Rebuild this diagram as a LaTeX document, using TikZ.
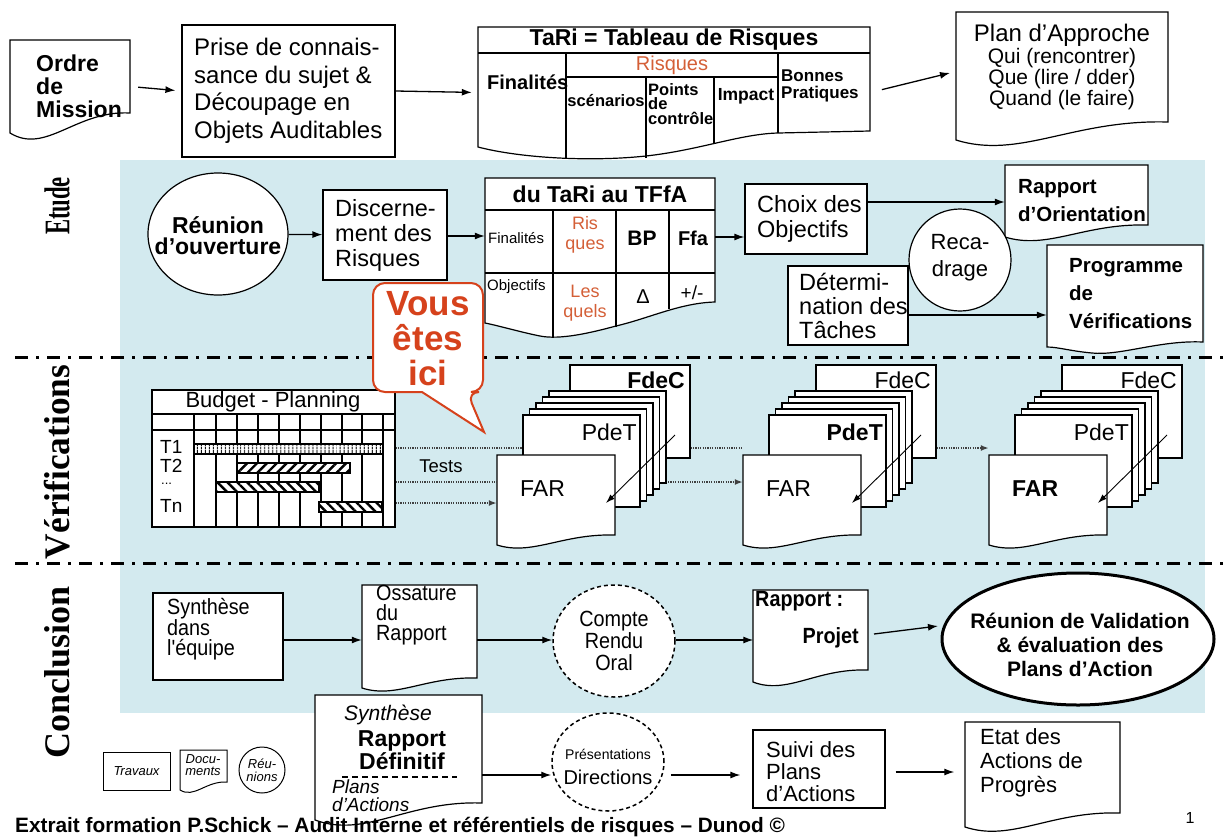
\documentclass[tikz,border=0pt]{standalone}
\usepackage{fontspec}
\setmainfont{Liberation Sans}
\newfontfamily\labfont{Liberation Serif}
\newfontfamily\narrowf[FakeStretch=0.9]{Liberation Sans}
\usetikzlibrary{arrows.meta,patterns.meta,shapes.geometric,calc}
\definecolor{bgblue}{RGB}{211,234,239}
\definecolor{rq}{RGB}{212,95,55}
\definecolor{vred}{RGB}{214,66,28}
\newcommand\fz[2]{\fontsize{#1}{#2}\selectfont}
\tikzset{
 bx/.style={draw, line width=1.2pt, fill=white, inner sep=0pt},
 ghost/.style={inner sep=0pt},
 t/.style={inner sep=0pt, align=left},
 tc/.style={inner sep=0pt, align=center},
 arr/.style={line width=1.3pt, -{Latex[length=10pt,width=7pt]}},
 thinarr/.style={line width=0.9pt, -{Latex[length=9pt,width=6pt]}},
 docl/.style={line width=1.2pt, fill=white},
 tl/.style={line width=1.2pt},
 dotl/.style={line width=1.6pt, dash pattern=on 1.2pt off 1.2pt, draw=black!75},
 dotarr/.style={dotl, -{Latex[length=8pt,width=6pt]}},
 dashdot/.style={line width=3pt, dash pattern=on 13pt off 8pt on 3pt off 8pt},
 lab/.style={inner sep=0pt, rotate=90, font=\labfont\bfseries\fz{36}{36}},
}
% x1 y1 x2 yLeftBottom yRightBottom
\newcommand\docpath[6][]{\filldraw[docl,#1] (#2,#5) -- (#2,#3) -- (#4,#3) -- (#4,#6) .. controls ({#2+0.55*(#4-#2)},{#6-0.15*(#5-#6)}) and ({#2+0.3*(#4-#2)},{#5+1.1*(#5-#6)}) .. (#2,#5) -- cycle;}
\newcommand\stack[5]{%
\begin{scope}[xshift=#1pt]
 \node[bx, minimum width=120pt, minimum height=93pt] (fdec#2) at (630,411.5) {};
 \foreach \k in {4,3,2,1} \filldraw[fill=white, line width=1.1pt] ({523+6.5*\k},{415-6*\k}) rectangle ({640+6.5*\k},{507-6*\k});
 \node[bx, minimum width=117pt, minimum height=92pt] (pdet#2) at (581.5,461) {};
 \node[ghost, minimum width=118pt, minimum height=85pt] (far#2) at (556,497.5) {};
 \docpath{497}{455}{615}{545}{535}
 \node[t, anchor=east, font=#3\fz{23}{23}] (fdect#2) at (685,380) {FdeC};
 \node[t, anchor=east, font=#4\fz{23}{23}] (pdett#2) at (637,432) {PdeT};
 \node[t, anchor=west, font=#5\fz{23}{23}] (fart#2) at (520,489) {FAR};
 \coordinate (as#2) at (675,435);
 \coordinate (at#2) at (606,503);
 \draw[thinarr] (as#2) -- (at#2);
\end{scope}}
\begin{document}
\begin{tikzpicture}[x=1pt,y=-1pt]
\useasboundingbox (0,0) rectangle (1227,839);
\fill[white] (0,0) rectangle (1227,839);
\fill[bgblue] (120,160) rectangle (1205,713);
\draw[dashdot] (15,357) -- (1227,357);
\draw[dashdot] (15,563) -- (1227,563);
% side labels
\node[lab] (labE) at (57,206) {\scalebox{0.63}[1]{Etude}};
\node[lab] (labV) at (57,462) {\scalebox{0.98}[1]{Vérifications}};
\node[lab] (labC) at (57,672) {Conclusion};
% ===== top row
\node[ghost, minimum width=120pt, minimum height=93pt] (ordre) at (70,86.5) {};
\docpath{10}{40}{130}{133}{113}
\node[t, anchor=west, font=\bfseries\fz{23}{23}] (ordret) at (36,86) {Ordre\\de\\Mission};
\node[bx, minimum width=213pt, minimum height=132pt] (prise) at (288.5,91) {};
\node[t, anchor=west, font=\fz{24}{27.5}] (priset) at (194,91) {Prise de connais-\\sance du sujet \&\\Découpage en\\Objets Auditables};
% TaRi
\node[ghost, minimum width=392pt, minimum height=131pt] (tari) at (674,92.5) {};
\filldraw[fill=white, tl] (478,27) -- (870,27) -- (870,131) -- (778,133) .. controls (740,134) and (700,150) .. (646,156) .. controls (590,162) and (520,158) .. (478,147) -- cycle;
\draw[tl] (478,53) -- (870,53);
\draw[tl] (566,53) -- (566,158);
\draw[tl] (566,77) -- (778,77);
\draw[tl] (646,77) -- (646,158);
\draw[tl] (714,77) -- (714,143);
\draw[tl] (778,53) -- (778,133);
\node[tc, font=\bfseries\fz{23}{23}] (tarit) at (674,40) {TaRi = Tableau de Risques};
\node[tc, text=rq, font=\fz{20}{20}] (tarir) at (672,65) {Risques};
\node[t, anchor=west, font=\bfseries\fz{20}{20}] (tarif) at (487,82) {Finalités};
\node[tc, font=\bfseries\fz{16.5}{16}] (taris) at (606,101) {scénarios};
\node[t, anchor=west, font=\bfseries\fz{16.5}{14.5}] (tarip) at (648,104) {Points\\de\\contrôle};
\node[tc, font=\bfseries\fz{17.5}{17}] (tarii) at (746,96) {Impact};
\node[t, anchor=west, font=\bfseries\fz{17}{17}] (tarib) at (781,86) {Bonnes\\Pratiques};
% Plan d'approche
\node[ghost, minimum width=212pt, minimum height=119pt] (plan) at (1062,71.5) {};
\docpath{956}{12}{1168}{140}{122}
\node[tc, font=\fz{24}{24}] (plant) at (1062,35) {Plan d'Approche};
\node[tc, font=\fz{21}{19}] (planq) at (1062,79) {Qui (rencontrer)\\Que (lire / dder)\\Quand (le faire)};
\draw[arr, shorten <=8pt, shorten >=6pt] (ordre.east) -- (prise.west);
\draw[arr, shorten >=6pt] (prise.east) -- (tari.west);
\draw[arr, shorten <=12pt, shorten >=6pt] (tari.east) -- (plan.west);
% ===== Etude
\node[draw, ellipse, line width=1.2pt, fill=white, minimum width=140pt, minimum height=122pt, inner sep=0pt] (reunion) at (218,234) {};
\node[tc, font=\bfseries\fz{23}{21}] (reuniont) at (218,236) {Réunion\\d'ouverture};
\node[bx, minimum width=124pt, minimum height=90pt] (disc) at (385,235) {};
\node[t, anchor=west, font=\fz{23.5}{25}] (disct) at (335,235) {Discerne-\\ment des\\Risques};
% TFfA
\node[ghost, minimum width=230pt, minimum height=160pt] (tffa) at (600,258) {};
\filldraw[fill=white, tl] (485,178) -- (715,178) -- (715,302) .. controls (680,303) and (650,318) .. (616,326) .. controls (590,333) and (560,340) .. (540,336) .. controls (520,332) and (500,326) .. (485,323) -- cycle;
\draw[tl] (485,210) -- (715,210);
\draw[tl] (485,273) -- (715,273);
\draw[tl] (553,210) -- (553,338);
\draw[tl] (616,210) -- (616,327);
\draw[tl] (669,210) -- (669,309);
\node[tc, font=\bfseries\fz{23}{23}] (tffat) at (600,194) {du TaRi au TFfA};
\node[t, anchor=west, font=\fz{15}{15}] (tffaf) at (488,238) {Finalités};
\node[tc, text=rq, font=\fz{18}{20}] (tffar) at (585,235) {Ris\\ques};
\node[tc, font=\bfseries\fz{21}{21}] (tffab) at (642,238) {BP};
\node[tc, font=\bfseries\fz{20}{20}] (tffaff) at (693,238) {Ffa};
\node[t, anchor=west, font=\fz{15}{15}] (tffao) at (487,287) {Objectifs};
\node[tc, text=rq, font=\fz{18}{20}] (tffal) at (585,303) {Les\\quels};
\node[tc, font=\fz{20}{20}] (tffad) at (643,297) {Δ};
\node[tc, font=\fz{19}{19}] (tffapm) at (692,293) {+/-};
% right part
\node[bx, minimum width=122pt, minimum height=70pt] (choix) at (806,219) {};
\node[t, anchor=west, font=\fz{23.5}{25}] (choixt) at (757,219) {Choix des\\Objectifs};
\node[ghost, minimum width=143pt, minimum height=66pt] (rapor) at (1076.5,198) {};
\docpath{1005}{165}{1148}{237}{225}
\node[t, anchor=west, font=\bfseries\fz{20.5}{28}] (rapot) at (1018,201) {Rapport\\d'Orientation};
\node[bx, minimum width=120pt, minimum height=79pt] (deter) at (848,305.5) {};
\node[t, anchor=west, font=\fz{23.5}{24}] (detert) at (799,306) {Détermi-\\nation des\\Tâches};
\node[draw, circle, line width=1.2pt, fill=white, minimum size=102pt, inner sep=0pt] (recad) at (960,260) {};
\node[tc, font=\fz{22}{27}] (recadt) at (960,258) {Reca-\\drage};
\node[ghost, minimum width=156pt, minimum height=100pt] (prog) at (1125,295) {};
\filldraw[docl] (1047,347) -- (1047,245) -- (1203,245) -- (1203,342) .. controls (1160,340) and (1120,356) .. (1092,353) .. controls (1070,351) and (1058,347) .. (1047,347) -- cycle;
\node[t, anchor=west, font=\bfseries\fz{20.5}{28}] (progt) at (1069,294) {Programme\\de\\Vérifications};
\coordinate (yA) at (0,236);
\coordinate (yB) at (0,237);
\coordinate (yC) at (0,202);
\coordinate (yD) at (0,315);
\draw[arr] (reunion) -- (disc);
\draw[arr] (disc.east |- yA) -- (tffa.west |- yA);
\draw[arr] (tffa.east |- yB) -- (choix.west |- yB);
\draw[arr] (choix.east |- yC) -- (rapor.west |- yC);
\draw[arr] (deter.east |- yD) -- (prog.west |- yD);
% ===== Verifications
\node[bx, minimum width=243pt, minimum height=137pt] (budget) at (273.5,458.5) {};
\draw[tl] (152,414) -- (395,414);
\draw[tl] (152,430) -- (395,430);
\foreach \x in {194,216,237,258,279,300,321,342,362,383} \draw[tl] (\x,414) -- (\x,527);
\foreach \a/\b/\c/\d/\ang/\dist/\lw in {194/444/383/454/90/4/1.4, 237/463/350/473/45/7/2.4, 216/482/319/492/-45/7/2.4, 319/502/382/512/-45/7/2.4}{
 \fill[white] (\a,\b) rectangle (\c,\d);
 \fill[pattern={Lines[angle=\ang,distance=\dist pt,line width=\lw pt]}] (\a,\b) rectangle (\c,\d);
 \draw[line width=1.1pt] (\a,\b) rectangle (\c,\d);
}
\node[tc, font=\fz{22}{22}] (budgett) at (273,402) {Budget - Planning};
\node[t, anchor=west, font=\fz{19}{19}] (t1) at (160,447) {T1};
\node[t, anchor=west, font=\fz{19}{19}] (t2) at (160,466) {T2};
\node[t, anchor=west, font=\fz{13}{13}] (tdots) at (161,484) {...};
\node[t, anchor=west, font=\fz{19}{19}] (tn) at (160,506) {Tn};
\stack{0}{A}{\bfseries}{}{}
\stack{246}{B}{}{\bfseries}{}
\stack{492}{C}{}{}{\bfseries}
\coordinate (y1) at (0,448);
\coordinate (y2) at (0,482);
\coordinate (y3) at (0,503);
\coordinate (rA) at (668,0);
\draw[dotl] (budget.east |- y1) -- (pdetA.west |- y1);
\draw[dotl] (budget.east |- y2) -- (farA.west |- y2);
\draw[dotarr] (budget.east |- y3) -- (farA.west |- y3);
\draw[dotl] (fdecA.east |- y1) -- (farB.west |- y1);
\draw[dotarr] (rA |- y2) -- (farB.west |- y2);
\draw[dotarr] (fdecB.east |- y1) -- (farC.west |- y1);
\node[tc, font=\fz{18.5}{18}] (tests) at (441,466) {Tests};
% callout
\filldraw[draw=vred, line width=2pt, fill=white] (422,392) [rounded corners=12pt] -- (373,392) -- (373,283) -- (483,283) -- (483,392) -- (467,392) [sharp corners] -- (484,432) -- cycle;
\node[tc, text=vred, font=\bfseries\fz{35}{35}] (vous) at (428,339) {Vous\\êtes\\ici};
% ===== Conclusion
\node[bx, minimum width=130pt, minimum height=87pt] (synth) at (218,636.5) {};
\node[t, anchor=west, font=\narrowf\fz{22}{20}] (syntht) at (167,629) {Synthèse\\dans\\l'équipe};
\node[ghost, minimum width=115pt, minimum height=99pt] (ossat) at (419.5,634.5) {};
\docpath{362}{585}{477}{688}{678}
\node[t, anchor=west, font=\narrowf\fz{22}{20}] (ossatt) at (376,615) {Ossature\\du\\Rapport};
\node[draw, ellipse, line width=1.5pt, dash pattern=on 4pt off 3pt, fill=white, minimum width=122pt, minimum height=112pt, inner sep=0pt] (compte) at (614,641) {};
\node[tc, font=\narrowf\fz{22}{22}] (comptet) at (614,641) {Compte\\Rendu\\Oral};
\node[ghost, minimum width=115pt, minimum height=92pt] (projet) at (811,636) {};
\docpath{753}{590}{868}{682}{670}
\node[t, anchor=west, font=\narrowf\bfseries\fz{22}{22}] (projet1) at (755,601) {Rapport :};
\node[t, anchor=east, font=\narrowf\bfseries\fz{22}{22}] (projet2) at (859,638) {Projet};
\node[draw, ellipse, line width=3pt, fill=white, minimum width=272pt, minimum height=132pt, inner sep=0pt] (valid) at (1078,639) {};
\node[tc, font=\bfseries\fz{21}{24}] (validt) at (1080,645) {Réunion de Validation\\\& évaluation des\\Plans d'Action};
\coordinate (yE) at (0,640);
\draw[arr] (synth.east |- yE) -- (ossat.west |- yE);
\draw[arr] (ossat.east |- yE) -- (compte.west |- yE);
\draw[arr] (compte.east |- yE) -- (projet.west |- yE);
\coordinate (pj1) at (874,634);
\coordinate (pj2) at (938,626);
\draw[arr] (pj1) -- (pj2);
% ===== bottom
\node[bx, line width=1pt, minimum width=67pt, minimum height=38pt] (trav) at (136.5,771) {\itshape\fz{13}{13}Travaux};
\node[ghost, minimum width=47pt, minimum height=40pt] (docu) at (203.5,768) {};
\docpath[line width=1pt]{180}{750}{227}{790}{782}
\node[tc, font=\itshape\fz{13}{12}] (docut) at (203,765) {Docu-\\ments};
\node[draw, circle, line width=1pt, minimum size=46pt, inner sep=0pt] (reu) at (262,770) {};
\node[tc, font=\itshape\fz{13}{13}] (reut) at (262,770) {Réu-\\nions};
\node[ghost, minimum width=167pt, minimum height=110pt] (rapdef) at (398.5,750) {};
\docpath{315}{695}{482}{820}{803}
\node[tc, font=\itshape\fz{21}{21}] (rdsyn) at (388,715) {Synthèse};
\node[tc, font=\bfseries\fz{23}{21}] (rdrap) at (402,750) {Rapport\\Définitif};
\draw[line width=1.2pt, dash pattern=on 6pt off 4pt] (342,777) -- (457,777);
\node[t, anchor=west, font=\itshape\fz{19}{18}] (rdplans) at (332,796) {Plans\\d'Actions};
\node[draw, ellipse, line width=1.5pt, dash pattern=on 4pt off 3pt, fill=white, minimum width=112pt, minimum height=98pt, inner sep=0pt] (pres) at (608,762) {};
\node[tc, font=\fz{14}{14}] (prest1) at (608,754) {Présentations};
\node[tc, font=\fz{20}{20}] (prest2) at (608,777) {Directions};
\node[bx, minimum width=132pt, minimum height=78pt] (suivi) at (819,769) {};
\node[t, anchor=west, font=\fz{22}{22}] (suivit) at (766,772) {Suivi des\\Plans\\d'Actions};
\node[ghost, minimum width=155pt, minimum height=100pt] (etat) at (1042,770) {};
\docpath{965}{722}{1120}{827}{813}
\node[t, anchor=west, font=\fz{22}{24}] (etatt) at (980,763) {Etat des\\Actions de\\Progrès};
\coordinate (yF) at (0,775);
\coordinate (yG) at (0,772);
\draw[arr] (rapdef.east |- yF) -- (pres.west |- yF);
\draw[arr, shorten <=6pt, shorten >=12pt] (pres.east |- yF) -- (suivi.west |- yF);
\draw[arr, shorten <=10pt, shorten >=10pt] (suivi.east |- yG) -- (etat.west |- yG);
\node[font=\fz{16}{16}, inner sep=0pt] (pnum) at (1190,818) {1};
\node[font=\bfseries\fz{20.8}{20.8}, inner sep=0pt] (foot) at (400,827) {Extrait formation P.Schick – Audit Interne et référentiels de risques – Dunod ©};
\end{tikzpicture}
\end{document}
